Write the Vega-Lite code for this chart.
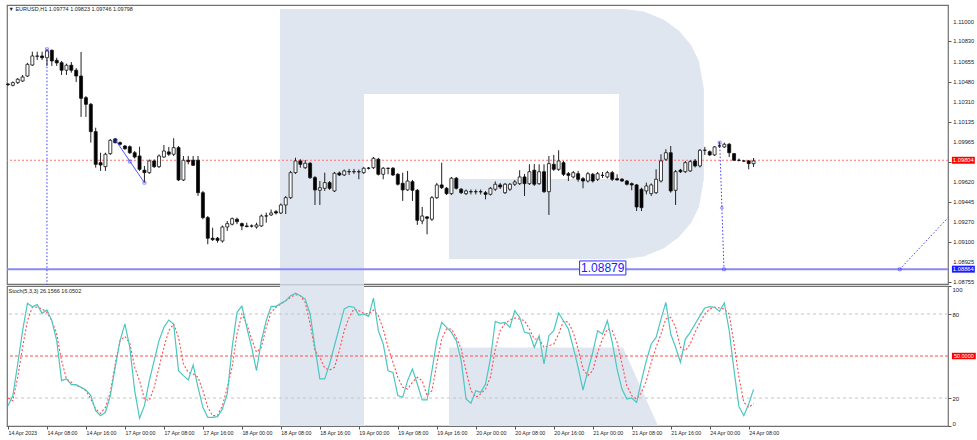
{
"$schema": "https://vega.github.io/schema/vega-lite/v6.json",
"padding": {"left": 4, "top": 4, "right": 0, "bottom": 0},
"background": "white",
"spacing": 2,
"bounds": "flush",
"config": {
  "view": {"stroke": "#707070", "strokeWidth": 1.2},
  "axis": {"labelFont": "Liberation Sans", "labelColor": "#222222", "tickColor": "#555555", "grid": false, "domain": false, "labelOverlap": false, "labelSeparation": 0},
  "scale": {"continuousPadding": 0}
},
"datasets": {
"bars": [
{"i":0,"o":1.10462,"h":1.10471,"l":1.10445,"c":1.10457,"k":14.5,"d":20},
{"i":1,"o":1.10451,"h":1.10484,"l":1.10441,"c":1.10474,"k":21.7,"d":18.1},
{"i":2,"o":1.10474,"h":1.10514,"l":1.10462,"c":1.10503,"k":44.3,"d":34.8},
{"i":3,"o":1.10488,"h":1.10540,"l":1.10480,"c":1.10523,"k":68.1,"d":56.2},
{"i":4,"o":1.10531,"h":1.10644,"l":1.10523,"c":1.10632,"k":87.6,"d":75.2},
{"i":5,"o":1.10626,"h":1.10741,"l":1.10618,"c":1.10704,"k":85.2,"d":84.8},
{"i":6,"o":1.10701,"h":1.10741,"l":1.10669,"c":1.10704,"k":86.7,"d":84.8},
{"i":7,"o":1.10704,"h":1.10741,"l":1.10669,"c":1.10689,"k":80.5,"d":83.6},
{"i":8,"o":1.10689,"h":1.10762,"l":1.10618,"c":1.10747,"k":82.9,"d":81.2},
{"i":9,"o":1.10753,"h":1.10760,"l":1.10618,"c":1.10661,"k":75.2,"d":75.2},
{"i":10,"o":1.10667,"h":1.10689,"l":1.10618,"c":1.10644,"k":61,"d":65.7},
{"i":11,"o":1.10646,"h":1.10661,"l":1.10540,"c":1.10581,"k":32.4,"d":46.7},
{"i":12,"o":1.10581,"h":1.10638,"l":1.10540,"c":1.10624,"k":33.6,"d":33.6},
{"i":13,"o":1.10624,"h":1.10652,"l":1.10560,"c":1.10581,"k":29.5,"d":31.2},
{"i":14,"o":1.10581,"h":1.10600,"l":1.10480,"c":1.10531,"k":29.5,"d":28.8},
{"i":15,"o":1.10531,"h":1.10739,"l":1.10178,"c":1.10339,"k":27.6,"d":27.6},
{"i":16,"o":1.10344,"h":1.10359,"l":1.10178,"c":1.10287,"k":25.7,"d":25.2},
{"i":17,"o":1.10287,"h":1.10298,"l":1.09956,"c":1.10051,"k":21.7,"d":19.3},
{"i":18,"o":1.10051,"h":1.10085,"l":1.09740,"c":1.09769,"k":11,"d":12.1},
{"i":19,"o":1.09783,"h":1.09869,"l":1.09712,"c":1.09763,"k":7.4,"d":9},
{"i":20,"o":1.09749,"h":1.09869,"l":1.09712,"c":1.09856,"k":9.8,"d":13.3},
{"i":21,"o":1.09861,"h":1.09988,"l":1.09850,"c":1.09976,"k":21.7,"d":24},
{"i":22,"o":1.09988,"h":1.09996,"l":1.09949,"c":1.09956,"k":41.9,"d":44.3},
{"i":23,"o":1.09956,"h":1.09966,"l":1.09932,"c":1.09942,"k":61,"d":61},
{"i":24,"o":1.09927,"h":1.09936,"l":1.09893,"c":1.09904,"k":72.9,"d":64},
{"i":25,"o":1.09921,"h":1.09932,"l":1.09858,"c":1.09869,"k":56.2,"d":59},
{"i":26,"o":1.09869,"h":1.09884,"l":1.09819,"c":1.09832,"k":25.2,"d":42},
{"i":27,"o":1.09841,"h":1.09921,"l":1.09712,"c":1.09726,"k":5.5,"d":32.4},
{"i":28,"o":1.09718,"h":1.09755,"l":1.09611,"c":1.09697,"k":14.5,"d":19.3},
{"i":29,"o":1.09697,"h":1.09811,"l":1.09686,"c":1.09798,"k":32.4,"d":18.1},
{"i":30,"o":1.09798,"h":1.09811,"l":1.09737,"c":1.09749,"k":46.7,"d":27.6},
{"i":31,"o":1.09749,"h":1.09854,"l":1.09737,"c":1.09841,"k":61,"d":41.9},
{"i":32,"o":1.09832,"h":1.09936,"l":1.09824,"c":1.09884,"k":70.5,"d":56.2},
{"i":33,"o":1.09876,"h":1.09919,"l":1.09841,"c":1.09856,"k":75.7,"d":68.1},
{"i":34,"o":1.09856,"h":1.09994,"l":1.09841,"c":1.09913,"k":72.9,"d":72.9},
{"i":35,"o":1.09913,"h":1.09927,"l":1.09625,"c":1.09634,"k":39.5,"d":63.3},
{"i":36,"o":1.09634,"h":1.09841,"l":1.09625,"c":1.09804,"k":36,"d":44.3},
{"i":37,"o":1.09804,"h":1.09841,"l":1.09769,"c":1.09792,"k":32.9,"d":38.3},
{"i":38,"o":1.09804,"h":1.09841,"l":1.09755,"c":1.09761,"k":43.6,"d":37.1},
{"i":39,"o":1.09804,"h":1.09841,"l":1.09496,"c":1.09524,"k":27.6,"d":34.8},
{"i":40,"o":1.09524,"h":1.09539,"l":1.09295,"c":1.09309,"k":13.3,"d":25.2},
{"i":41,"o":1.09309,"h":1.09323,"l":1.09079,"c":1.09131,"k":6.2,"d":13.3},
{"i":42,"o":1.09131,"h":1.09222,"l":1.09107,"c":1.09119,"k":6.2,"d":7.4},
{"i":43,"o":1.09131,"h":1.09142,"l":1.09093,"c":1.09113,"k":6.7,"d":7.4},
{"i":44,"o":1.09107,"h":1.09241,"l":1.09093,"c":1.09228,"k":12.1,"d":14.5},
{"i":45,"o":1.09228,"h":1.09280,"l":1.09194,"c":1.09257,"k":22.9,"d":27.6},
{"i":46,"o":1.09252,"h":1.09310,"l":1.09241,"c":1.09300,"k":56.2,"d":41.9},
{"i":47,"o":1.09295,"h":1.09309,"l":1.09252,"c":1.09274,"k":81.2,"d":65.7},
{"i":48,"o":1.09257,"h":1.09267,"l":1.09200,"c":1.09237,"k":85.7,"d":80},
{"i":49,"o":1.09237,"h":1.09265,"l":1.09226,"c":1.09231,"k":70.5,"d":72.9},
{"i":50,"o":1.09237,"h":1.09250,"l":1.09224,"c":1.09236,"k":56.2,"d":62.1},
{"i":51,"o":1.09228,"h":1.09265,"l":1.09214,"c":1.09246,"k":39.5,"d":52.6},
{"i":52,"o":1.09237,"h":1.09336,"l":1.09228,"c":1.09323,"k":61,"d":56.2},
{"i":53,"o":1.09323,"h":1.09352,"l":1.09265,"c":1.09324,"k":75.2,"d":70.5},
{"i":54,"o":1.09332,"h":1.09379,"l":1.09323,"c":1.09349,"k":85.5,"d":81.2},
{"i":55,"o":1.09360,"h":1.09375,"l":1.09336,"c":1.09349,"k":85.5,"d":84.8},
{"i":56,"o":1.09349,"h":1.09431,"l":1.09340,"c":1.09418,"k":87.6,"d":87.1},
{"i":57,"o":1.09418,"h":1.09496,"l":1.09340,"c":1.09481,"k":89.5,"d":89.5},
{"i":58,"o":1.09481,"h":1.09712,"l":1.09470,"c":1.09697,"k":93.1,"d":91.9},
{"i":59,"o":1.09697,"h":1.09826,"l":1.09686,"c":1.09798,"k":94.8,"d":93.8},
{"i":60,"o":1.09798,"h":1.09813,"l":1.09740,"c":1.09769,"k":93.1,"d":93.1},
{"i":61,"o":1.09740,"h":1.09806,"l":1.09729,"c":1.09778,"k":90.7,"d":88.3},
{"i":62,"o":1.09778,"h":1.09789,"l":1.09643,"c":1.09654,"k":80,"d":72.9},
{"i":63,"o":1.09654,"h":1.09668,"l":1.09418,"c":1.09548,"k":56.2,"d":53.8},
{"i":64,"o":1.09545,"h":1.09625,"l":1.09418,"c":1.09567,"k":33.6,"d":49},
{"i":65,"o":1.09562,"h":1.09697,"l":1.09539,"c":1.09611,"k":33.6,"d":41.3},
{"i":66,"o":1.09611,"h":1.09625,"l":1.09548,"c":1.09562,"k":44.3,"d":40},
{"i":67,"o":1.09539,"h":1.09703,"l":1.09530,"c":1.09692,"k":57.4,"d":41.9},
{"i":68,"o":1.09694,"h":1.09707,"l":1.09668,"c":1.09677,"k":70.5,"d":53.8},
{"i":69,"o":1.09677,"h":1.09724,"l":1.09668,"c":1.09712,"k":83.6,"d":68.1},
{"i":70,"o":1.09705,"h":1.09729,"l":1.09677,"c":1.09706,"k":85.5,"d":77.6},
{"i":71,"o":1.09706,"h":1.09729,"l":1.09686,"c":1.09705,"k":84.8,"d":83.6},
{"i":72,"o":1.09705,"h":1.09724,"l":1.09640,"c":1.09704,"k":79.3,"d":82.4},
{"i":73,"o":1.09697,"h":1.09746,"l":1.09686,"c":1.09735,"k":80,"d":80.5},
{"i":74,"o":1.09735,"h":1.09746,"l":1.09724,"c":1.09736,"k":78.3,"d":80},
{"i":75,"o":1.09740,"h":1.09832,"l":1.09729,"c":1.09821,"k":91.4,"d":82.9},
{"i":76,"o":1.09813,"h":1.09824,"l":1.09673,"c":1.09683,"k":68.1,"d":78.8},
{"i":77,"o":1.09683,"h":1.09746,"l":1.09640,"c":1.09735,"k":58.6,"d":69.3},
{"i":78,"o":1.09735,"h":1.09740,"l":1.09683,"c":1.09734,"k":39.5,"d":56.2},
{"i":79,"o":1.09735,"h":1.09746,"l":1.09668,"c":1.09677,"k":38.3,"d":45.5},
{"i":80,"o":1.09683,"h":1.09694,"l":1.09586,"c":1.09597,"k":21.7,"d":34.8},
{"i":81,"o":1.09605,"h":1.09697,"l":1.09453,"c":1.09548,"k":20.5,"d":27.6},
{"i":82,"o":1.09548,"h":1.09712,"l":1.09539,"c":1.09625,"k":32.4,"d":26.4},
{"i":83,"o":1.09619,"h":1.09634,"l":1.09453,"c":1.09545,"k":40.7,"d":31.2},
{"i":84,"o":1.09545,"h":1.09556,"l":1.09246,"c":1.09286,"k":30,"d":34.8},
{"i":85,"o":1.09280,"h":1.09401,"l":1.09252,"c":1.09323,"k":18.6,"d":32.4},
{"i":86,"o":1.09315,"h":1.09323,"l":1.09165,"c":1.09303,"k":18.6,"d":21.7},
{"i":87,"o":1.09295,"h":1.09496,"l":1.09280,"c":1.09481,"k":39.5,"d":25.2},
{"i":88,"o":1.09481,"h":1.09608,"l":1.09470,"c":1.09591,"k":61,"d":44.3},
{"i":89,"o":1.09591,"h":1.09783,"l":1.09556,"c":1.09567,"k":74,"d":62.1},
{"i":90,"o":1.09562,"h":1.09573,"l":1.09504,"c":1.09516,"k":70.5,"d":69.3},
{"i":91,"o":1.09516,"h":1.09660,"l":1.09504,"c":1.09649,"k":66.9,"d":69.3},
{"i":92,"o":1.09649,"h":1.09660,"l":1.09552,"c":1.09562,"k":61,"d":63.3},
{"i":93,"o":1.09554,"h":1.09565,"l":1.09513,"c":1.09524,"k":46.7,"d":55},
{"i":94,"o":1.09516,"h":1.09552,"l":1.09504,"c":1.09539,"k":19.3,"d":39.5},
{"i":95,"o":1.09533,"h":1.09552,"l":1.09509,"c":1.09532,"k":16.2,"d":25.2},
{"i":96,"o":1.09532,"h":1.09552,"l":1.09509,"c":1.09533,"k":25.2,"d":20.5},
{"i":97,"o":1.09533,"h":1.09552,"l":1.09509,"c":1.09532,"k":24,"d":22.9},
{"i":98,"o":1.09524,"h":1.09539,"l":1.09467,"c":1.09510,"k":30,"d":26.4},
{"i":99,"o":1.09510,"h":1.09573,"l":1.09500,"c":1.09562,"k":47.9,"d":34.8},
{"i":100,"o":1.09554,"h":1.09621,"l":1.09539,"c":1.09597,"k":74.8,"d":55},
{"i":101,"o":1.09591,"h":1.09608,"l":1.09556,"c":1.09573,"k":73.3,"d":68.1},
{"i":102,"o":1.09524,"h":1.09608,"l":1.09513,"c":1.09597,"k":74,"d":73.3},
{"i":103,"o":1.09554,"h":1.09608,"l":1.09539,"c":1.09597,"k":70.5,"d":75.7},
{"i":104,"o":1.09597,"h":1.09634,"l":1.09582,"c":1.09617,"k":82.4,"d":77.1},
{"i":105,"o":1.09602,"h":1.09718,"l":1.09591,"c":1.09660,"k":77.6,"d":76.4},
{"i":106,"o":1.09660,"h":1.09686,"l":1.09496,"c":1.09602,"k":66.9,"d":75.2},
{"i":107,"o":1.09602,"h":1.09769,"l":1.09591,"c":1.09705,"k":66.2,"d":69.3},
{"i":108,"o":1.09718,"h":1.09772,"l":1.09582,"c":1.09597,"k":56.2,"d":62.1},
{"i":109,"o":1.09602,"h":1.09769,"l":1.09591,"c":1.09705,"k":64.5,"d":62.1},
{"i":110,"o":1.09705,"h":1.09769,"l":1.09522,"c":1.09533,"k":44.3,"d":56.2},
{"i":111,"o":1.09533,"h":1.09841,"l":1.09332,"c":1.09775,"k":64.5,"d":57.4},
{"i":112,"o":1.09769,"h":1.09850,"l":1.09712,"c":1.09726,"k":68.1,"d":58.6},
{"i":113,"o":1.09726,"h":1.09890,"l":1.09712,"c":1.09798,"k":80.7,"d":65.7},
{"i":114,"o":1.09783,"h":1.09798,"l":1.09668,"c":1.09683,"k":75.2,"d":75.2},
{"i":115,"o":1.09688,"h":1.09703,"l":1.09625,"c":1.09674,"k":69.3,"d":74},
{"i":116,"o":1.09660,"h":1.09712,"l":1.09647,"c":1.09697,"k":56.2,"d":66.9},
{"i":117,"o":1.09688,"h":1.09712,"l":1.09619,"c":1.09640,"k":41.9,"d":55},
{"i":118,"o":1.09645,"h":1.09660,"l":1.09562,"c":1.09625,"k":25.7,"d":40.7},
{"i":119,"o":1.09625,"h":1.09703,"l":1.09612,"c":1.09688,"k":39.5,"d":36},
{"i":120,"o":1.09683,"h":1.09694,"l":1.09612,"c":1.09625,"k":52.6,"d":39.5},
{"i":121,"o":1.09640,"h":1.09703,"l":1.09625,"c":1.09688,"k":68.1,"d":52.6},
{"i":122,"o":1.09674,"h":1.09703,"l":1.09651,"c":1.09673,"k":65.7,"d":62.1},
{"i":123,"o":1.09660,"h":1.09712,"l":1.09647,"c":1.09697,"k":75.2,"d":69.3},
{"i":124,"o":1.09697,"h":1.09712,"l":1.09625,"c":1.09640,"k":59.8,"d":68.1},
{"i":125,"o":1.09645,"h":1.09683,"l":1.09630,"c":1.09634,"k":40.7,"d":59.8},
{"i":126,"o":1.09640,"h":1.09651,"l":1.09617,"c":1.09625,"k":26.4,"d":44.3},
{"i":127,"o":1.09625,"h":1.09634,"l":1.09586,"c":1.09597,"k":19.3,"d":28.8},
{"i":128,"o":1.09602,"h":1.09612,"l":1.09545,"c":1.09591,"k":20,"d":21.7},
{"i":129,"o":1.09591,"h":1.09599,"l":1.09366,"c":1.09401,"k":16.9,"d":19.3},
{"i":130,"o":1.09554,"h":1.09567,"l":1.09366,"c":1.09395,"k":32.4,"d":24},
{"i":131,"o":1.09539,"h":1.09611,"l":1.09510,"c":1.09582,"k":46.7,"d":32.4},
{"i":132,"o":1.09516,"h":1.09604,"l":1.09496,"c":1.09591,"k":58.6,"d":45.5},
{"i":133,"o":1.09524,"h":1.09726,"l":1.09513,"c":1.09640,"k":63.3,"d":56.2},
{"i":134,"o":1.09625,"h":1.09856,"l":1.09612,"c":1.09798,"k":76.4,"d":65.7},
{"i":135,"o":1.09813,"h":1.09899,"l":1.09798,"c":1.09869,"k":88.3,"d":76.4},
{"i":136,"o":1.09869,"h":1.09927,"l":1.09524,"c":1.09539,"k":65.7,"d":77.6},
{"i":137,"o":1.09545,"h":1.09720,"l":1.09418,"c":1.09705,"k":56.2,"d":70.5},
{"i":138,"o":1.09718,"h":1.09729,"l":1.09694,"c":1.09705,"k":45.5,"d":56.2},
{"i":139,"o":1.09705,"h":1.09798,"l":1.09694,"c":1.09783,"k":62.1,"d":53.8},
{"i":140,"o":1.09712,"h":1.09806,"l":1.09703,"c":1.09792,"k":66.9,"d":58.6},
{"i":141,"o":1.09798,"h":1.09815,"l":1.09742,"c":1.09755,"k":72.9,"d":66.9},
{"i":142,"o":1.09755,"h":1.09901,"l":1.09742,"c":1.09890,"k":78.8,"d":74},
{"i":143,"o":1.09890,"h":1.09919,"l":1.09850,"c":1.09891,"k":84.3,"d":80},
{"i":144,"o":1.09878,"h":1.09888,"l":1.09841,"c":1.09850,"k":85.2,"d":83.6},
{"i":145,"o":1.09850,"h":1.09927,"l":1.09841,"c":1.09919,"k":84.8,"d":84.8},
{"i":146,"o":1.09927,"h":1.09962,"l":1.09910,"c":1.09928,"k":81.9,"d":84.3},
{"i":147,"o":1.09919,"h":1.09956,"l":1.09910,"c":1.09942,"k":87.9,"d":83.6},
{"i":148,"o":1.09942,"h":1.09953,"l":1.09832,"c":1.09869,"k":68.1,"d":80},
{"i":149,"o":1.09861,"h":1.09867,"l":1.09798,"c":1.09804,"k":39.5,"d":58.6},
{"i":150,"o":1.09804,"h":1.09819,"l":1.09794,"c":1.09803,"k":13.8,"d":34.8},
{"i":151,"o":1.09798,"h":1.09806,"l":1.09789,"c":1.09797,"k":7.4,"d":16.9},
{"i":152,"o":1.09798,"h":1.09806,"l":1.09726,"c":1.09775,"k":15.7,"d":13.3},
{"i":153,"o":1.09774,"h":1.09823,"l":1.09746,"c":1.09798,"k":26.16,"d":16.05}
],
"wm1": [
{"p":"A","x":55.82,"y":1.11109,"y2":1.0873},
{"p":"A","x":73.06,"y":1.11109,"y2":1.0873},
{"p":"B","x":73.06,"y":1.11109,"y2":1.10376},
{"p":"B","x":126.4,"y":1.11109,"y2":1.10376},
{"p":"C","x":90.5,"y":1.09642,"y2":1.08952},
{"p":"C","x":126.4,"y":1.09642,"y2":1.08952},
{"p":"D","x":125.4,"y":1.11109,"y2":1.08952},
{"p":"D","x":126.4,"y":1.11109,"y2":1.08952},
{"p":"D","x":130.5,"y":1.11088,"y2":1.08974},
{"p":"D","x":134.6,"y":1.11017,"y2":1.09044},
{"p":"D","x":137.7,"y":1.10921,"y2":1.09141},
{"p":"D","x":140.2,"y":1.10796,"y2":1.09265},
{"p":"D","x":141.8,"y":1.10659,"y2":1.09403},
{"p":"D","x":142.8,"y":1.10419,"y2":1.09642}
],
"wm2": [
{"p":"A","x":55.82,"y":100,"y2":0},
{"p":"A","x":73.06,"y":100,"y2":0},
{"p":"L","x":90.5,"y":56,"y2":0},
{"p":"L","x":126.2,"y":56,"y2":0},
{"p":"L","x":133.4,"y":0,"y2":0}
],
"ticks": [
{"v":1.11},{"v":1.1083},{"v":1.10655},{"v":1.1048},{"v":1.1031},{"v":1.10135},{"v":1.09965},{"v":1.0962},{"v":1.09445},{"v":1.0927},{"v":1.091},{"v":1.08925},{"v":1.08755}
]
},
"vconcat": [
{
"width": 941,
"height": 279,
"layer": [
{
"data": {"name": "wm1"},
"mark": {"type": "area", "color": "#dfe6f0", "orient": "vertical", "interpolate": "linear"},
"encoding": {
"x": {"field": "x", "type": "quantitative", "scale": {"domain": [-0.2, 192.9], "nice": false, "zero": false, "padding": 0}, "axis": null},
"y": {"field": "y", "type": "quantitative", "title": null, "scale": {"domain": [1.08736, 1.11144], "nice": false, "zero": false, "padding": 0},
"axis": {"orient": "right", "values": [1.11, 1.1083, 1.10655, 1.1048, 1.1031, 1.10135, 1.09965, 1.0979, 1.0962, 1.09445, 1.0927, 1.091, 1.08925, 1.08755], "tickSize": 3, "labels": false, "title": null}},
"y2": {"field": "y2"},
"detail": {"field": "p"}
}
},
{
"data": {"values": [{"v": 1.09804}]},
"mark": {"type": "rule", "color": "#ff7070", "strokeDash": [2, 2], "strokeWidth": 1},
"encoding": {"y": {"field": "v", "type": "quantitative", "title": null}}
},
{
"data": {"values": [{"v": 1.08864}]},
"mark": {"type": "rule", "color": "#8a8af2", "strokeWidth": 2},
"encoding": {"y": {"field": "v", "type": "quantitative", "title": null}}
},
{
"data": {"values": [{"x": 8, "y": 1.10762, "y2": 1.0873}]},
"mark": {"type": "rule", "color": "#3a3aff", "strokeDash": [1.5, 2], "strokeWidth": 1},
"encoding": {
"x": {"field": "x", "type": "quantitative", "axis": null},
"y": {"field": "y", "type": "quantitative", "title": null},
"y2": {"field": "y2"}
}
},
{
"data": {"name": "bars"},
"mark": {"type": "rule", "color": "#222222", "strokeWidth": 1},
"encoding": {
"x": {"field": "i", "type": "quantitative", "axis": null},
"y": {"field": "l", "type": "quantitative", "title": null},
"y2": {"field": "h"}
}
},
{
"data": {"name": "bars"},
"mark": {"type": "bar", "size": 3, "stroke": "#111111", "strokeWidth": 0.8},
"encoding": {
"x": {"field": "i", "type": "quantitative", "axis": null},
"y": {"field": "o", "type": "quantitative", "title": null},
"y2": {"field": "c"},
"fill": {"condition": {"test": "datum.c >= datum.o", "value": "#ffffff"}, "value": "#000000"}
}
},
{
"data": {"values": [{"x": 22.1, "y": 1.09976}, {"x": 28.0, "y": 1.0961}]},
"mark": {"type": "line", "color": "#5555ff", "strokeWidth": 1},
"encoding": {
"x": {"field": "x", "type": "quantitative", "axis": null},
"y": {"field": "y", "type": "quantitative", "title": null}
}
},
{
"data": {"values": [{"x": 146.05, "y": 1.09956}, {"x": 146.93, "y": 1.08863}]},
"mark": {"type": "line", "color": "#3a3aff", "strokeWidth": 1, "strokeDash": [1.5, 2]},
"encoding": {
"x": {"field": "x", "type": "quantitative", "axis": null},
"y": {"field": "y", "type": "quantitative", "title": null}
}
},
{
"data": {"values": [{"x": 183.0, "y": 1.08863}, {"x": 192.9, "y": 1.09308}]},
"mark": {"type": "line", "color": "#3a3aff", "strokeWidth": 1, "strokeDash": [1.5, 2]},
"encoding": {
"x": {"field": "x", "type": "quantitative", "axis": null},
"y": {"field": "y", "type": "quantitative", "title": null}
}
},
{
"data": {"values": [{"x": 22.1, "y": 1.09976}, {"x": 28.0, "y": 1.0961}, {"x": 25.0, "y": 1.09793}, {"x": 8, "y": 1.10762}, {"x": 146.05, "y": 1.09956}, {"x": 146.93, "y": 1.08863}, {"x": 183.0, "y": 1.08863}]},
"mark": {"type": "point", "shape": "square", "size": 8, "filled": false, "color": "#3a3aff", "strokeWidth": 0.8},
"encoding": {
"x": {"field": "x", "type": "quantitative", "axis": null},
"y": {"field": "y", "type": "quantitative", "title": null}
}
},
{
"data": {"values": [{"x": 146.5, "y": 1.09401}]},
"mark": {"type": "point", "shape": "triangle-up", "size": 10, "filled": false, "color": "#3a3aff", "strokeWidth": 0.8},
"encoding": {
"x": {"field": "x", "type": "quantitative", "axis": null},
"y": {"field": "y", "type": "quantitative", "title": null}
}
},
{
"data": {"values": [{"x": 117.3, "x2": 126.8, "y": 1.08935, "y2": 1.08814}]},
"mark": {"type": "rect", "fill": "#ffffff", "stroke": "#3030ff", "strokeWidth": 1},
"encoding": {
"x": {"field": "x", "type": "quantitative", "axis": null},
"x2": {"field": "x2"},
"y": {"field": "y", "type": "quantitative", "title": null},
"y2": {"field": "y2"}
}
},
{
"data": {"values": [{"x": 122.05, "y": 1.08873, "t": "1.08879"}]},
"mark": {"type": "text", "color": "#1a1aff", "fontSize": 12, "font": "Liberation Sans", "align": "center", "baseline": "middle"},
"encoding": {
"x": {"field": "x", "type": "quantitative", "axis": null},
"y": {"field": "y", "type": "quantitative", "title": null},
"text": {"field": "t"}
}
},
{
"data": {"values": [{"x": 0.1, "y": 1.1111, "t": "▼ EURUSD,H1  1.09774 1.09823 1.09746 1.09798"}]},
"mark": {"type": "text", "color": "#222222", "fontSize": 5.5, "font": "Liberation Sans", "align": "left", "baseline": "middle"},
"encoding": {
"x": {"field": "x", "type": "quantitative", "axis": null},
"y": {"field": "y", "type": "quantitative", "title": null},
"text": {"field": "t"}
}
},
{
"data": {"name": "ticks"},
"mark": {"type": "text", "clip": false, "color": "#222222", "fontSize": 5.8, "font": "Liberation Sans", "align": "left", "baseline": "middle"},
"encoding": {
"x": {"datum": 194.0, "type": "quantitative", "axis": null},
"y": {"field": "v", "type": "quantitative", "title": null},
"text": {"field": "v", "type": "quantitative", "format": ".5f"}
}
},
{
"data": {"values": [{"x": 193.7, "x2": 198.4, "y": 1.09834, "y2": 1.09774, "col": "r"}, {"x": 193.7, "x2": 198.4, "y": 1.08894, "y2": 1.08834, "col": "b"}]},
"mark": {"type": "rect", "clip": false},
"encoding": {
"x": {"field": "x", "type": "quantitative", "axis": null},
"x2": {"field": "x2"},
"y": {"field": "y", "type": "quantitative", "title": null},
"y2": {"field": "y2"},
"color": {"field": "col", "type": "nominal", "scale": {"domain": ["r", "b"], "range": ["#ff0000", "#1a1aff"]}, "legend": null}
}
},
{
"data": {"values": [{"x": 196.05, "y": 1.09804, "t": "1.09804"}, {"x": 196.05, "y": 1.08864, "t": "1.08864"}]},
"mark": {"type": "text", "clip": false, "color": "#ffffff", "fontSize": 5.8, "font": "Liberation Sans", "align": "center", "baseline": "middle"},
"encoding": {
"x": {"field": "x", "type": "quantitative", "axis": null},
"y": {"field": "y", "type": "quantitative", "title": null},
"text": {"field": "t"}
}
}
]
},
{
"width": 941,
"height": 140,
"layer": [
{
"data": {"name": "wm2"},
"mark": {"type": "area", "color": "#dfe6f0", "orient": "vertical", "interpolate": "linear"},
"encoding": {
"x": {"field": "x", "type": "quantitative", "title": null, "scale": {"domain": [-0.2, 192.9], "nice": false, "zero": false, "padding": 0},
"axis": {"values": [0, 8, 16, 24, 32, 40, 48, 56, 64, 72, 80, 88, 96, 104, 112, 120, 128, 136, 144, 152],
"labelExpr": "['14 Apr 2023','14 Apr 08:00','14 Apr 16:00','17 Apr 00:00','17 Apr 08:00','17 Apr 16:00','18 Apr 00:00','18 Apr 08:00','18 Apr 16:00','19 Apr 00:00','19 Apr 08:00','19 Apr 16:00','20 Apr 00:00','20 Apr 08:00','20 Apr 16:00','21 Apr 00:00','21 Apr 08:00','21 Apr 16:00','24 Apr 00:00','24 Apr 08:00'][round(datum.value/8)]",
"labelAlign": "left", "labelAngle": 0, "labelDx": 1, "labelFontSize": 5.3, "tickSize": 3, "labelPadding": 1, "labelOverlap": false, "labelBound": false, "labelFlush": false, "title": null}},
"y": {"field": "y", "type": "quantitative", "title": null, "scale": {"domain": [0, 100], "nice": false, "zero": false, "padding": 0},
"axis": {"orient": "right", "values": [0, 20, 80, 100], "format": "d", "tickSize": 3, "labelPadding": 1, "labelFontSize": 6, "labelFlush": true, "labelOverlap": false, "title": null}},
"y2": {"field": "y2"},
"detail": {"field": "p"}
}
},
{
"data": {"values": [{"v": 80}, {"v": 20}]},
"mark": {"type": "rule", "color": "#c4c4c4", "strokeDash": [3, 3], "strokeWidth": 1},
"encoding": {"y": {"field": "v", "type": "quantitative", "title": null}}
},
{
"data": {"values": [{"v": 50}]},
"mark": {"type": "rule", "color": "#ff5050", "strokeDash": [3, 2], "strokeWidth": 1},
"encoding": {"y": {"field": "v", "type": "quantitative", "title": null}}
},
{
"data": {"name": "bars"},
"mark": {"type": "line", "color": "#ff4b4b", "strokeWidth": 1.1, "strokeDash": [2, 2]},
"encoding": {
"x": {"field": "i", "type": "quantitative", "title": null},
"y": {"field": "d", "type": "quantitative", "title": null}
}
},
{
"data": {"name": "bars"},
"mark": {"type": "line", "color": "#4cc6bf", "strokeWidth": 1.2},
"encoding": {
"x": {"field": "i", "type": "quantitative", "title": null},
"y": {"field": "k", "type": "quantitative", "title": null}
}
},
{
"data": {"values": [{"x": 0.1, "y": 96.3, "t": "Stoch(5,3,3) 26.1566 16.0502"}]},
"mark": {"type": "text", "color": "#222222", "fontSize": 5.5, "font": "Liberation Sans", "align": "left", "baseline": "middle"},
"encoding": {
"x": {"field": "x", "type": "quantitative", "title": null},
"y": {"field": "y", "type": "quantitative", "title": null},
"text": {"field": "t"}
}
},
{
"data": {"values": [{"x": 193.7, "x2": 198.6, "y": 52.3, "y2": 47.7}]},
"mark": {"type": "rect", "clip": false, "color": "#ff0000"},
"encoding": {
"x": {"field": "x", "type": "quantitative", "title": null},
"x2": {"field": "x2"},
"y": {"field": "y", "type": "quantitative", "title": null},
"y2": {"field": "y2"}
}
},
{
"data": {"values": [{"x": 196.15, "y": 50, "t": "50.0000"}]},
"mark": {"type": "text", "clip": false, "color": "#ffffff", "fontSize": 5.5, "font": "Liberation Sans", "align": "center", "baseline": "middle"},
"encoding": {
"x": {"field": "x", "type": "quantitative", "title": null},
"y": {"field": "y", "type": "quantitative", "title": null},
"text": {"field": "t"}
}
}
]
}
]
}
